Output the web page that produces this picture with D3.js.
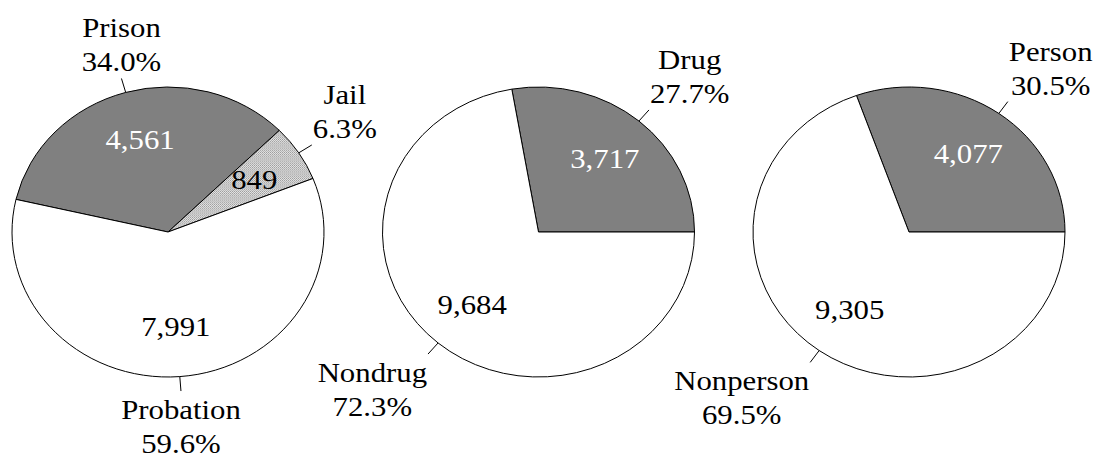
<!DOCTYPE html>
<html><head><meta charset="utf-8">
<script src="https://cdn.jsdelivr.net/npm/d3@7"></script>
<style>body{margin:0;background:#fff} svg{display:block} text{font-family:"Liberation Serif","Times New Roman","DejaVu Serif",serif;}</style>
</head><body><svg id="c" width="1096" height="455"></svg>
<script>
// ---- data ----
const sentenceCategories = ["Prison", "Jail", "Probation"];
const sentenceValues = [4561, 849, 7991];
const drugCategories = ["Drug", "Nondrug"];
const drugValues = [3717, 9684];
const personCategories = ["Person", "Nonperson"];
const personValues = [4077, 9305];

// ---- style / layout ----
const W = 1096, H = 455;
const RX = 156, RY = 145, CY = 232;
const SX = 1.14;            // horizontal text stretch seen in the reference
const FS = 27;
const LINE = 34;

const pies = [
  {cats: sentenceCategories, vals: sentenceValues, fills: ["#808080", "url(#dots)", "#ffffff"],
   textFill: ["#ffffff", "#000000", "#000000"], start: -77 * Math.PI / 180, dir: 1},
  {cats: drugCategories, vals: drugValues, fills: ["#808080", "#ffffff"],
   textFill: ["#ffffff", "#000000"], start: Math.PI / 2, dir: -1},
  {cats: personCategories, vals: personValues, fills: ["#808080", "#ffffff"],
   textFill: ["#ffffff", "#000000"], start: Math.PI / 2, dir: -1}
];

const svg = d3.select("#c");
svg.append("rect").attr("width", W).attr("height", H).attr("fill", "#fff");

const defs = svg.append("defs");
const pat = defs.append("pattern").attr("id", "dots")
  .attr("width", 2).attr("height", 2).attr("patternUnits", "userSpaceOnUse");
pat.append("rect").attr("width", 2).attr("height", 2).attr("fill", "#e4e4e4");
pat.append("rect").attr("width", 1).attr("height", 1).attr("fill", "#9a9a9a");
pat.append("rect").attr("x", 1).attr("y", 1).attr("width", 1).attr("height", 1).attr("fill", "#b0b0b0");

const xPos = d3.scalePoint().domain(d3.range(pies.length)).range([168, 909]);
const fmt = d3.format(",");
const pctFmt = d3.format(".1f");

function pt(cx, a, r) {
  return [cx + RX * r * Math.sin(a), CY - RY * r * Math.cos(a)];
}

function addText(g, str, x, y, fill) {
  return g.append("text")
    .attr("transform", `translate(${x},${y}) scale(${SX},1)`)
    .attr("text-anchor", "middle")
    .style("font-size", FS + "px")
    .attr("fill", fill)
    .text(str);
}

pies.forEach((p, i) => {
  const cx = xPos(i);
  const total = d3.sum(p.vals);
  const pie = d3.pie().sort(null).value(d => d)
    .startAngle(p.start).endAngle(p.start + p.dir * 2 * Math.PI);
  const arcs = pie(p.vals);
  const arc = d3.arc().innerRadius(0).outerRadius(RX);

  const sg = svg.append("g").attr("transform", `translate(${cx},${CY}) scale(1,${RY / RX})`);
  sg.selectAll("path").data(arcs).join("path")
    .attr("d", arc)
    .attr("fill", (d, j) => p.fills[j])
    .attr("stroke", "#000")
    .attr("stroke-width", 1)
    .attr("vector-effect", "non-scaling-stroke")
    .attr("stroke-linejoin", "miter");

  const tg = svg.append("g");
  arcs.forEach((d, j) => {
    const a = (d.startAngle + d.endAngle) / 2;
    const [vx, vy] = pt(cx, a, 0.66);
    addText(tg, fmt(p.vals[j]), vx, vy + 9, p.textFill[j]);

    const [x0, y0] = pt(cx, a, 1.0);
    const [x1, y1] = pt(cx, a, 1.1);
    tg.append("line").attr("x1", x0).attr("y1", y0).attr("x2", x1).attr("y2", y1)
      .attr("stroke", "#000").attr("stroke-width", 1);

    const lines = [p.cats[j], pctFmt(p.vals[j] / total * 100) + "%"];
    const sx = Math.sin(a), cy = Math.cos(a);
    let b1;
    if (cy > 0) b1 = y1 - 7 - LINE; else b1 = y1 + 28;
    const tmp = lines.map((s, k) => addText(tg, s, 0, b1 + k * LINE, "#000"));
    const w = d3.max(tmp, t => t.node().getComputedTextLength()) * SX;
    let bx;
    if (Math.abs(sx) < 0.35) bx = x1;
    else if (sx > 0) bx = x1 + 1 + w / 2;
    else bx = x1 - 1 - w / 2;
    tmp.forEach((t, k) => t.attr("transform", `translate(${bx},${b1 + k * LINE}) scale(${SX},1)`));
  });
});
</script>
</body></html>
